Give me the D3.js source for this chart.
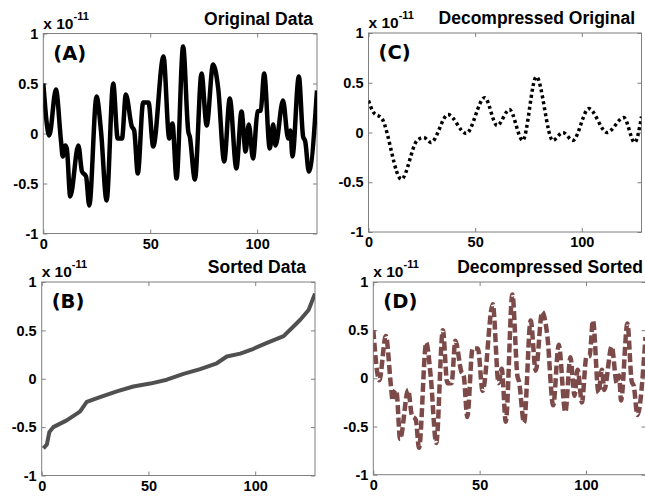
<!DOCTYPE html>
<html>
<head>
<meta charset="utf-8">
<script src="https://cdn.jsdelivr.net/npm/d3@7"></script>
<style>
	body { margin: 0; background: #fff; }
	svg { display: block; }
	.tick text { font-family: "Liberation Sans", Arial, sans-serif; font-weight: bold; font-size: 14.5px; fill: #000; }
</style>
</head>
<body>
<svg id="chart" width="645" height="496"></svg>
<script>
// values are in units of 1e-11
const xTicks = [0, 50, 100];
const yTicks = [-1, -0.5, 0, 0.5, 1];

// (A) original signal, read at peaks / troughs
const originalX = [0, 2.8, 5.9, 8.3, 9.1, 10.3, 11, 12.6, 16.4, 18.1, 20, 21.5, 24.9, 27, 29.6, 32.7, 34.8, 36.8, 38.6, 41.4, 42.5, 44.2, 46.7, 49.2, 51.4, 56.2, 58.9, 60.4, 62.3, 65.4, 67.8, 68.5, 70.9, 74, 76.4, 79.4, 81.8, 84.6, 87.2, 90.3, 92.7, 94.6, 96.1, 98.1, 100.2, 101.7, 103.3, 105.9, 107.5, 108.6, 112.1, 114.5, 115.6, 116.5, 119.5, 121.5, 122.5, 124.2, 128];
const originalY = [0.50, -0.02, 0.44, -0.08, -0.23, -0.12, -0.15, -0.63, -0.12, -0.38, -0.43, -0.72, 0.37, 0.02, -0.67, 0.50, -0.05, -0.05, 0.39, 0.07, 0.03, -0.40, 0.31, 0.31, -0.13, 0.77, -0.05, 0.10, -0.45, 0.87, 0.02, -0.03, -0.46, 0.60, 0.08, 0.69, 0.45, -0.28, 0.35, -0.35, 0.22, -0.18, 0.09, -0.25, 0.22, 0.23, 0.60, -0.15, 0.09, -0.12, 0.33, -0.05, 0.03, -0.23, 0.57, -0.03, -0.08, -0.38, 0.43];

// (B) sorted signal
const sortedX = [0.8, 2.4, 3.6, 5.4, 11.7, 17.9, 21.1, 27.3, 35.2, 42.9, 50.8, 58.6, 66.4, 74.2, 82, 86.7, 93, 99.2, 105.5, 113.3, 117.9, 121.1, 125, 128];
const sortedY = [-0.72, -0.68, -0.55, -0.50, -0.43, -0.34, -0.24, -0.19, -0.13, -0.08, -0.05, -0.01, 0.05, 0.10, 0.16, 0.23, 0.26, 0.31, 0.37, 0.44, 0.54, 0.61, 0.71, 0.88];

// (C) decompressed original
const decompOrigX = [0, 2.4, 6.3, 15.4, 22.8, 25.9, 29.3, 37.3, 45.8, 54.5, 60.3, 66.1, 72.3, 78.7, 86.4, 91.1, 95.8, 103.3, 111.9, 119.7, 124.8, 128];
const decompOrigY = [0.32, 0.20, 0.14, -0.47, -0.08, -0.05, -0.10, 0.18, -0.01, 0.35, 0.07, 0.23, -0.08, 0.56, -0.08, 0.00, -0.08, 0.24, 0.00, 0.15, -0.10, 0.16];

// (D) decompressed sorted: reconstructs the original exactly
const decompSortedX = originalX;
const decompSortedY = originalY;

const panels = [
	{ label: "(A)", title: "Original Data", xs: originalX, ys: originalY,
	  box: [43.3, 317, 33.5, 233.5], titleX: 313, color: "#000", width: 4.5, dash: null, curve: d3.curveMonotoneX },
	{ label: "(C)", title: "Decompressed Original", xs: decompOrigX, ys: decompOrigY,
	  box: [368.5, 641.5, 33, 232], titleX: 635, color: "#000", width: 3.5, dash: "3 3", curve: d3.curveMonotoneX },
	{ label: "(B)", title: "Sorted Data", xs: sortedX, ys: sortedY,
	  box: [41.7, 315, 282, 475.5], titleX: 306, color: "#505050", width: 4, dash: null, curve: d3.curveLinear },
	{ label: "(D)", title: "Decompressed Sorted", xs: decompSortedX, ys: decompSortedY,
	  box: [373.3, 645.5, 282, 474.7], titleX: 643, color: "#7d4a4a", width: 4.5, dash: "9 3.5", curve: d3.curveMonotoneX },
];

const svg = d3.select("#chart");
const frameColor = "#7f7f7f";

panels.forEach((p, i) => {
	const [l, r, t, b] = p.box;
	const x = d3.scaleLinear().domain([0, 128]).range([l, r]);
	const y = d3.scaleLinear().domain([-1, 1]).range([b, t]);
	const g = svg.append("g");

	g.append("rect")
		.attr("x", l).attr("y", t)
		.attr("width", r - l).attr("height", b - t)
		.style("fill", "#fff")
		.style("stroke", frameColor)
		.style("stroke-width", 1);

	const styleAxis = (sel) => {
		sel.select(".domain").remove();
		sel.selectAll(".tick line").style("stroke", frameColor);
	};

	g.append("g").attr("transform", `translate(0,${b})`)
		.call(d3.axisBottom(x).tickValues(xTicks).tickSize(-4).tickPadding(5).tickFormat(d3.format("d")))
		.call(styleAxis);
	g.append("g").attr("transform", `translate(0,${t})`)
		.call(d3.axisTop(x).tickValues(xTicks).tickSize(-4).tickFormat(""))
		.call(styleAxis);
	g.append("g").attr("transform", `translate(${l},0)`)
		.call(d3.axisLeft(y).tickValues(yTicks).tickSize(-4).tickPadding(5).tickFormat((d) => String(d)))
		.call(styleAxis);
	g.append("g").attr("transform", `translate(${r},0)`)
		.call(d3.axisRight(y).tickValues(yTicks).tickSize(-4).tickFormat(""))
		.call(styleAxis);

	const clipId = `clip${i}`;
	g.append("clipPath").attr("id", clipId)
		.append("rect").attr("x", l).attr("y", t).attr("width", r - l).attr("height", b - t);

	const line = d3.line()
		.x((d) => x(d[0]))
		.y((d) => y(d[1]))
		.curve(p.curve);

	g.append("path")
		.datum(p.xs.map((v, k) => [v, p.ys[k]]))
		.attr("clip-path", `url(#${clipId})`)
		.attr("d", line)
		.style("fill", "none")
		.style("stroke", p.color)
		.style("stroke-width", p.width)
		.style("stroke-linejoin", "round")
		.style("stroke-dasharray", p.dash);

	// exponent label
	const ex = g.append("text")
		.attr("x", l)
		.attr("y", t - 5)
		.style("font-family", "Liberation Sans, Arial, sans-serif")
		.style("font-weight", "bold")
		.style("font-size", "15.5px");
	ex.append("tspan").text("x 10");
	ex.append("tspan").attr("dy", -9).style("font-size", "11px").text("-11");

	g.append("text")
		.attr("x", p.titleX)
		.attr("y", t - 9)
		.attr("text-anchor", "end")
		.style("font-family", "Liberation Sans, Arial, sans-serif")
		.style("font-weight", "bold")
		.style("font-size", "17.5px")
		.text(p.title);

	g.append("text")
		.attr("x", l + 10)
		.attr("y", t + 26)
		.style("font-family", "DejaVu Sans, sans-serif")
		.style("font-weight", "bold")
		.style("font-size", "19.5px")
		.text(p.label);
});
</script>
</body>
</html>
